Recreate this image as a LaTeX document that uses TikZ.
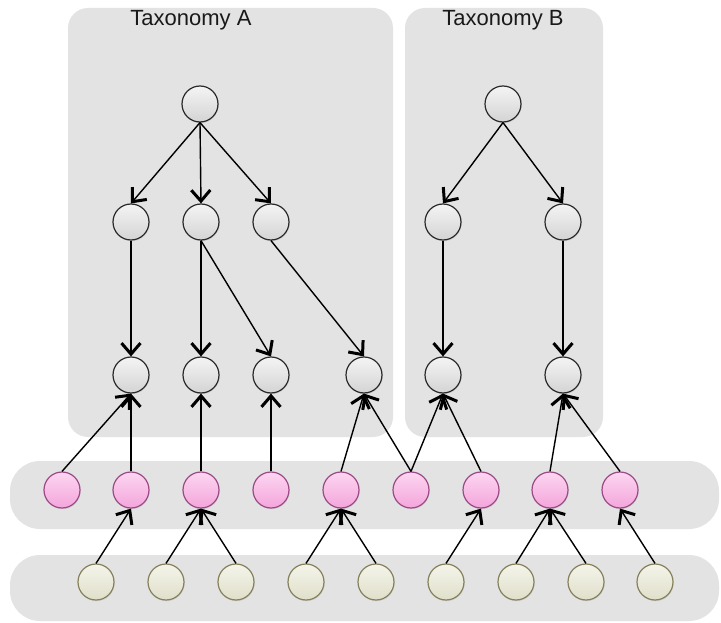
\documentclass[tikz,border=0pt]{standalone}
\usepackage{fontspec}
\newfontfamily\labelfont{Liberation Sans}
\usetikzlibrary{arrows.meta,shadows}
\definecolor{panelgray}{HTML}{E3E3E3}
\definecolor{grayrim}{HTML}{2A2A2A}
\definecolor{graytop}{HTML}{F4F4F4}
\definecolor{graybot}{HTML}{D4D4D4}
\definecolor{pinkrim}{HTML}{9C4A86}
\definecolor{pinktop}{HTML}{FCD6F1}
\definecolor{pinkbot}{HTML}{F4A5DB}
\definecolor{yelrim}{HTML}{85815C}
\definecolor{yeltop}{HTML}{F4F4EA}
\definecolor{yelbot}{HTML}{E0DFCB}
\tikzset{
  panel/.style={fill=panelgray},
  title/.style={font=\labelfont\fontsize{22}{26}\selectfont, text=black!90},
  bubble/.style={circle, minimum size=36pt, inner sep=0pt, line width=1.2pt,
    drop shadow={opacity=0.18, shadow xshift=0.6pt, shadow yshift=-1.2pt}},
  gnode/.style={bubble, draw=grayrim, top color=graytop, bottom color=graybot},
  pnode/.style={bubble, draw=pinkrim, top color=pinktop, bottom color=pinkbot},
  ynode/.style={bubble, draw=yelrim, top color=yeltop, bottom color=yelbot},
  link/.style={draw=black, line width=1.4pt,
    -{Straight Barb[length=11pt,width=19pt,line width=3pt]}},
}
\begin{document}
\begin{tikzpicture}[x=1pt,y=-1pt]
\useasboundingbox (0,0) rectangle (721,623);
% panels
\fill[panel, rounded corners=20pt] (68,8) rectangle (393,437);
\fill[panel, rounded corners=20pt] (405,8) rectangle (603,437);
\fill[panel, rounded corners=30pt] (10,461) rectangle (719,529);
\fill[panel, rounded corners=30pt] (10,555) rectangle (719,621);
% titles
\node[title] (tA) at (191,20) {Taxonomy A};
\node[title] (tB) at (503,20) {Taxonomy B};
% taxonomy A
\node[gnode] (a0) at (200,104) {};
\node[gnode] (a1) at (131,222) {};
\node[gnode] (a2) at (201,222) {};
\node[gnode] (a3) at (271,222) {};
% taxonomy B
\node[gnode] (b0) at (503,104) {};
\node[gnode] (b1) at (443,222) {};
\node[gnode] (b2) at (563,222) {};
% third row
\node[gnode] (c1) at (131,375) {};
\node[gnode] (c2) at (201,375) {};
\node[gnode] (c3) at (271,375) {};
\node[gnode] (c4) at (364,375) {};
\node[gnode] (c5) at (443,375) {};
\node[gnode] (c6) at (563,375) {};
% pink row
\foreach \i/\x in {1/62,2/131,3/201,4/271,5/341,6/411,7/481,8/550,9/620}
  \node[pnode] (p\i) at (\x,490) {};
% yellow row
\foreach \i/\x in {1/96,2/166,3/236,4/306,5/376,6/446,7/516,8/586,9/655}
  \node[ynode] (y\i) at (\x,582) {};
% taxonomy edges
\foreach \s/\t in {a0/a1,a0/a2,a0/a3,b0/b1,b0/b2,a1/c1,a2/c2,a2/c3,a3/c4,b1/c5,b2/c6}
  \draw[link] (\s.south) -- (\t.north);
% pink to third row
\foreach \s/\t in {p1/c1,p2/c1,p3/c2,p4/c3,p5/c4,p6/c4,p6/c5,p7/c5,p8/c6,p9/c6}
  \draw[link] (\s.north) -- (\t.south);
% yellow to pink
\foreach \s/\t in {y1/p2,y2/p3,y3/p3,y4/p5,y5/p5,y6/p7,y7/p8,y8/p8,y9/p9}
  \draw[link] (\s.north) -- (\t.south);
\end{tikzpicture}
\end{document}
